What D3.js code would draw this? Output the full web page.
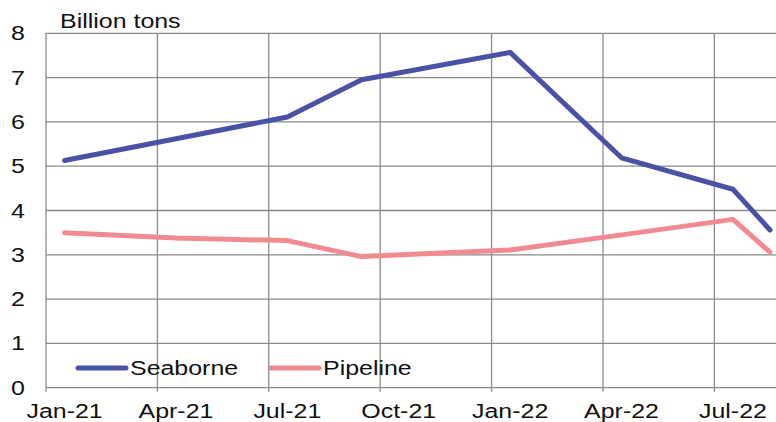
<!DOCTYPE html>
<html>
<head>
<meta charset="utf-8">
<script src="https://cdn.jsdelivr.net/npm/d3@7"></script>
<style>
  body { margin: 0; background: #fff; }
  text { font-family: "Liberation Sans", Arial, sans-serif; fill: #111; }
</style>
</head>
<body>
<div id="chart"></div>
<script>
// Data (months counted from Jan-21, points sit at mid-month)
const monthIdx = [0, 3, 6, 8, 12, 15, 18, 19];
const seaborne = [5.13, 5.62, 6.11, 6.95, 7.57, 5.19, 4.48, 3.56];
const pipeline = [3.50, 3.38, 3.32, 2.96, 3.11, 3.45, 3.80, 3.06];
const tickMonths = [0, 3, 6, 9, 12, 15, 18];
const tickLabels = ["Jan-21", "Apr-21", "Jul-21", "Oct-21", "Jan-22", "Apr-22", "Jul-22"];
const yTicks = [0, 1, 2, 3, 4, 5, 6, 7, 8];

const width = 776;
const height = 422;
const margin = { top: 33.3, left: 46, bottom: 387.7 };
const stretch = 1.28; // text in the reference is stretched horizontally

const svg = d3.select("#chart")
    .append("svg")
    .attr("width", width)
    .attr("height", height);

// Scales
const x = d3.scaleLinear().domain([0, 20]).range([margin.left, margin.left + 20 * 37.13]);
const y = d3.scaleLinear().domain([0, 8]).range([margin.bottom, margin.top]);

const grid = "#8a8a8a";

// Horizontal gridlines
svg.append("g")
    .selectAll("line")
    .data(yTicks)
    .enter()
    .append("line")
    .attr("x1", margin.left)
    .attr("x2", width)
    .attr("y1", d => y(d))
    .attr("y2", d => y(d))
    .attr("stroke", grid)
    .attr("stroke-width", 1.3);

// Vertical gridlines + small ticks below the axis
svg.append("g")
    .selectAll("line")
    .data(tickMonths)
    .enter()
    .append("line")
    .attr("x1", d => x(d))
    .attr("x2", d => x(d))
    .attr("y1", margin.top)
    .attr("y2", margin.bottom + 4)
    .attr("stroke", grid)
    .attr("stroke-width", 1.3);

// Y labels
svg.append("g")
    .selectAll("text")
    .data(yTicks)
    .enter()
    .append("text")
    .attr("transform", d => `translate(25, ${y(d) + 7}) scale(${stretch},1)`)
    .attr("text-anchor", "end")
    .style("font-size", "19.5px")
    .text(d => d);

// X labels, centred on mid-month
svg.append("g")
    .selectAll("text")
    .data(tickMonths)
    .enter()
    .append("text")
    .attr("transform", d => `translate(${x(d + 0.5)}, 418) scale(${stretch},1)`)
    .attr("text-anchor", "middle")
    .style("font-size", "19.5px")
    .text((d, i) => tickLabels[i]);

// Unit label
svg.append("text")
    .attr("transform", `translate(60, 28) scale(${stretch},1)`)
    .style("font-size", "19.5px")
    .text("Billion tons");

// Lines
const line = d3.line()
    .x(d => x(d.m + 0.5))
    .y(d => y(d.v));

const series = [
    { name: "Seaborne", color: "#4a52a6", values: seaborne },
    { name: "Pipeline", color: "#f28a91", values: pipeline }
];

series.forEach(s => {
    svg.append("path")
        .datum(monthIdx.map((m, i) => ({ m: m, v: s.values[i] })))
        .attr("fill", "none")
        .attr("stroke", s.color)
        .attr("stroke-width", 5)
        .attr("stroke-linejoin", "round")
        .attr("stroke-linecap", "round")
        .attr("d", line);
});

// Legend
const legendX = [78, 271];
series.forEach((s, i) => {
    svg.append("line")
        .attr("x1", legendX[i])
        .attr("x2", legendX[i] + 48)
        .attr("y1", 368)
        .attr("y2", 368)
        .attr("stroke", s.color)
        .attr("stroke-width", 5)
        .attr("stroke-linecap", "round");
    svg.append("text")
        .attr("transform", `translate(${legendX[i] + 52}, 375) scale(${stretch},1)`)
        .style("font-size", "19.5px")
        .text(s.name);
});
</script>
</body>
</html>
